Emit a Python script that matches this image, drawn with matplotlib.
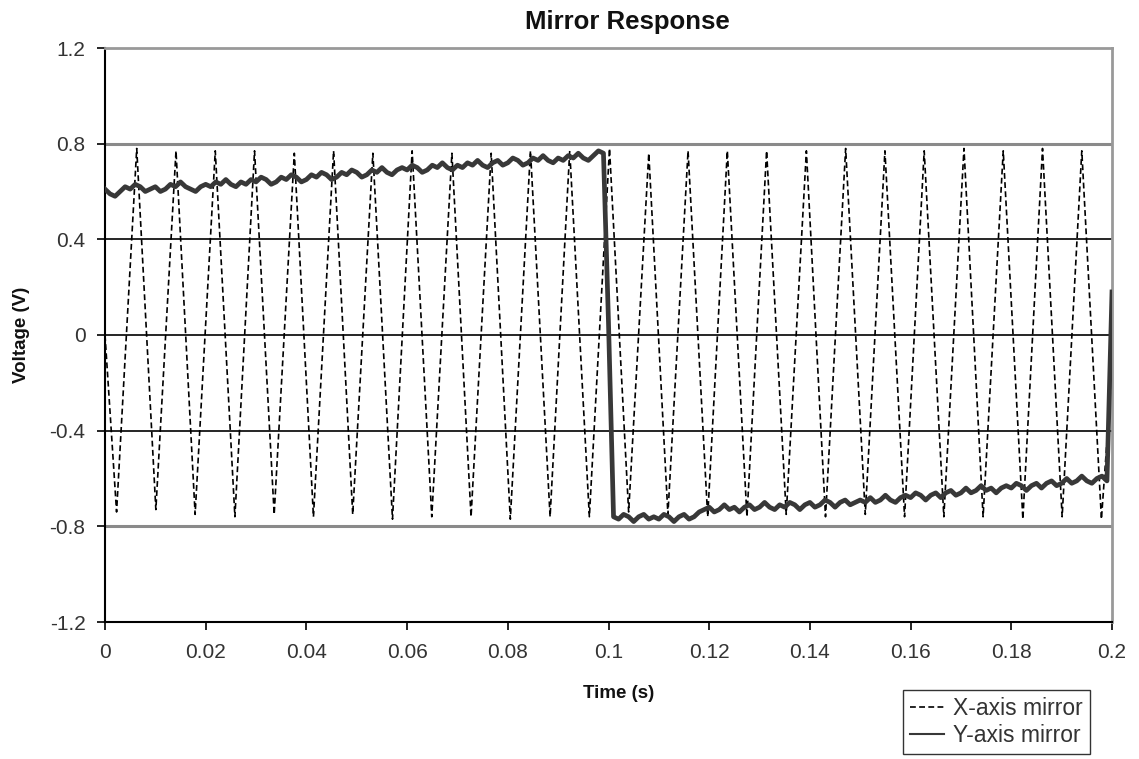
import numpy as np
import matplotlib
matplotlib.use('Agg')
import matplotlib.pyplot as plt

plt.rcParams['font.family'] = ['Liberation Sans', 'DejaVu Sans']
plt.rcParams['axes.unicode_minus'] = False

# X-axis mirror: turning points of the triangle drive signal (time s, volts)
x_mirror_t = [0.0, 0.0023, 0.0063, 0.0101, 0.0141, 0.0179, 0.0219, 0.0258, 0.0297,
              0.0336, 0.0376, 0.0414, 0.0454, 0.0492, 0.0532, 0.0571, 0.0610, 0.0649,
              0.0689, 0.0727, 0.0767, 0.0805, 0.0845, 0.0884, 0.0923, 0.0962, 0.1002,
              0.1040, 0.1080, 0.1118, 0.1158, 0.1197, 0.1236, 0.1275, 0.1314, 0.1353,
              0.1393, 0.1431, 0.1471, 0.1510, 0.1549, 0.1588, 0.1627, 0.1666, 0.1706,
              0.1744, 0.1784, 0.1823, 0.1862, 0.1901, 0.1940, 0.1979, 0.2000]
x_mirror_v = [0.00, -0.74, 0.78, -0.73, 0.77, -0.75, 0.77, -0.76, 0.77,
              -0.75, 0.76, -0.76, 0.77, -0.75, 0.76, -0.77, 0.77, -0.76,
              0.76, -0.76, 0.76, -0.77, 0.77, -0.76, 0.77, -0.76, 0.78,
              -0.74, 0.76, -0.75, 0.77, -0.76, 0.77, -0.76, 0.77, -0.75,
              0.77, -0.76, 0.78, -0.75, 0.77, -0.76, 0.77, -0.76, 0.78,
              -0.76, 0.77, -0.77, 0.78, -0.76, 0.77, -0.77, -0.15]

y_mirror_v = [
    0.61, 0.59, 0.58, 0.60, 0.62, 0.61, 0.63, 0.62, 0.60, 0.61,
    0.62, 0.60, 0.61, 0.63, 0.62, 0.64, 0.62, 0.61, 0.60, 0.62,
    0.63, 0.62, 0.64, 0.63, 0.65, 0.63, 0.62, 0.64, 0.63, 0.65,
    0.64, 0.66, 0.65, 0.63, 0.64, 0.66, 0.65, 0.67, 0.66, 0.64,
    0.65, 0.67, 0.66, 0.68, 0.67, 0.65, 0.66, 0.68, 0.67, 0.69,
    0.68, 0.66, 0.67, 0.69, 0.68, 0.70, 0.68, 0.67, 0.69, 0.70,
    0.69, 0.71, 0.70, 0.68, 0.69, 0.71, 0.70, 0.72, 0.70, 0.69,
    0.71, 0.70, 0.72, 0.71, 0.73, 0.71, 0.70, 0.72, 0.73, 0.71,
    0.72, 0.74, 0.73, 0.71, 0.72, 0.74, 0.73, 0.75, 0.73, 0.72,
    0.74, 0.73, 0.75, 0.74, 0.76, 0.74, 0.73, 0.75, 0.77, 0.76,
    0.05, -0.76, -0.77, -0.75, -0.76, -0.78, -0.76, -0.75, -0.77, -0.76,
    -0.77, -0.75, -0.76, -0.78, -0.76, -0.75, -0.77, -0.76, -0.74, -0.73,
    -0.72, -0.74, -0.73, -0.71, -0.73, -0.72, -0.74, -0.72, -0.71, -0.73,
    -0.72, -0.70, -0.72, -0.73, -0.71, -0.72, -0.70, -0.71, -0.73, -0.71,
    -0.70, -0.72, -0.71, -0.69, -0.70, -0.72, -0.70, -0.69, -0.71, -0.70,
    -0.69, -0.70, -0.68, -0.70, -0.69, -0.67, -0.69, -0.70, -0.68, -0.67,
    -0.68, -0.66, -0.67, -0.69, -0.67, -0.66, -0.68, -0.66, -0.65, -0.67,
    -0.66, -0.64, -0.66, -0.65, -0.63, -0.65, -0.64, -0.66, -0.64, -0.63,
    -0.64, -0.62, -0.63, -0.65, -0.63, -0.62, -0.64, -0.62, -0.61, -0.63,
    -0.62, -0.60, -0.62, -0.61, -0.59, -0.61, -0.62, -0.60, -0.59, -0.61,
    0.18]
y_mirror_t = np.arange(len(y_mirror_v)) * 0.001

x_ticks = [0, 0.02, 0.04, 0.06, 0.08, 0.1, 0.12, 0.14, 0.16, 0.18, 0.2]
x_tick_labels = ['0', '0.02', '0.04', '0.06', '0.08', '0.1', '0.12', '0.14', '0.16', '0.18', '0.2']
y_ticks = [-1.2, -0.8, -0.4, 0, 0.4, 0.8, 1.2]
y_tick_labels = ['-1.2', '-0.8', '-0.4', '0', '0.4', '0.8', '1.2']

W, H = 1139, 759
fig = plt.figure(figsize=(W / 100, H / 100), dpi=100)
ax = fig.add_axes([105 / W, 1 - 622 / H, (1112 - 105) / W, (622 - 48) / H])

# horizontal gridlines (Excel look: dark at +-0.4 and 0, grey at +-0.8)
for g in [-0.4, 0, 0.4]:
    ax.axhline(g, color='black', lw=1.2, zorder=1)
for g in [-0.8, 0.8]:
    ax.axhline(g, color='#8a8a8a', lw=2.2, zorder=1)

ax.plot(x_mirror_t, x_mirror_v, color='black', lw=1.2, dashes=(3.5, 2),
        label='X-axis mirror', zorder=2)
ax.plot(y_mirror_t, y_mirror_v, color='#383838', lw=3.4,
        label='Y-axis mirror', zorder=3)

ax.set_xlim(0, 0.2)
ax.set_ylim(-1.2, 1.2)
ax.set_xticks(x_ticks)
ax.set_xticklabels(x_tick_labels)
ax.set_yticks(y_ticks)
ax.set_yticklabels(y_tick_labels)
ax.tick_params(axis='both', direction='out', length=6, width=1.2, color='black',
               labelsize=15, labelcolor='#333333')
ax.tick_params(axis='x', pad=9)
ax.tick_params(axis='y', pad=8)

for s in ['left', 'bottom']:
    ax.spines[s].set_color('black')
    ax.spines[s].set_linewidth(1.5)
for s in ['top', 'right']:
    ax.spines[s].set_color('#999999')
    ax.spines[s].set_linewidth(2)

fig.text(627 / W, 1 - 22 / H, 'Mirror Response', ha='center', va='center',
         fontsize=18.5, fontweight='bold', color='#111111')
fig.text(619 / W, 1 - 693 / H, 'Time (s)', ha='center', va='center',
         fontsize=13.5, fontweight='bold', color='#111111')
fig.text(22 / W, 1 - 335 / H, 'Voltage (V)', ha='center', va='center',
         rotation=90, fontsize=13.5, fontweight='bold', color='#111111')

leg = fig.legend(loc='upper left', bbox_to_anchor=(903 / W, 1 - 690 / H),
                 frameon=True, fancybox=False, shadow=False, fontsize=16.5,
                 handlelength=1.5, handletextpad=0.4, labelspacing=0.2,
                 borderpad=0.3, borderaxespad=0)
leg.get_frame().set_edgecolor('black')
leg.get_frame().set_linewidth(1.0)
for t in leg.get_texts():
    t.set_color('#333333')
leg.get_lines()[1].set_linewidth(1.5)

fig.savefig('out.png', dpi=100)
